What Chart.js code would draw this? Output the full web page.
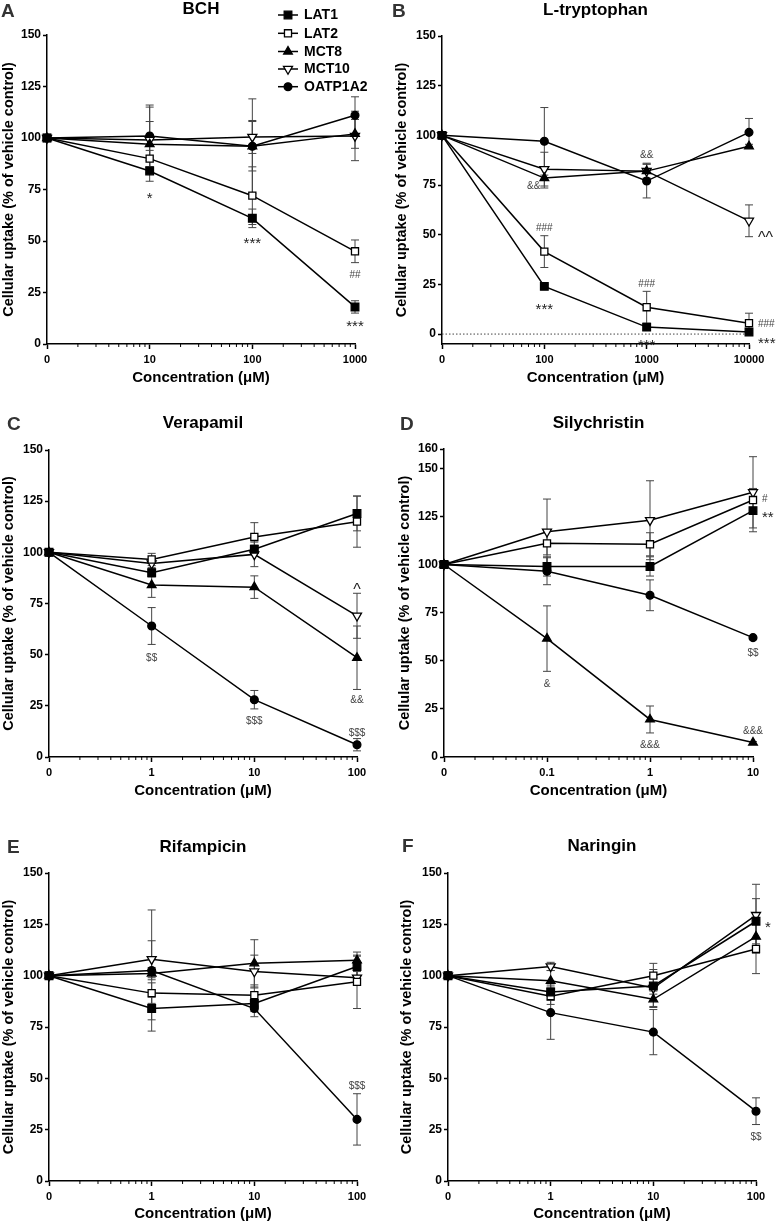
<!DOCTYPE html>
<html>
<head>
<meta charset="utf-8">
<script src="https://cdn.jsdelivr.net/npm/chart.js@4/dist/chart.umd.min.js"></script>
<style>
body { margin: 0; background: #fff; width: 777px; height: 1223px; position: relative; overflow: hidden; }
canvas { position: absolute; }
</style>
</head>
<body>
<canvas id="pA" width="390" height="395" style="left:0;top:0"></canvas>
<canvas id="pB" width="387" height="395" style="left:390px;top:0"></canvas>
<canvas id="pC" width="390" height="410" style="left:0;top:400px"></canvas>
<canvas id="pD" width="387" height="410" style="left:390px;top:400px"></canvas>
<canvas id="pE" width="390" height="413" style="left:0;top:810px"></canvas>
<canvas id="pF" width="387" height="413" style="left:390px;top:810px"></canvas>
<script>
const transporters = ['LAT1', 'LAT2', 'MCT8', 'MCT10', 'OATP1A2']
const yTicks = [0, 25, 50, 75, 100, 125, 150]
const yTicksD = [0, 25, 50, 75, 100, 125, 150, 160]

// A - BCH
const bchDoses = ['0', '10', '100', '1000']
const bchMeans = [
    [100, 84, 61, 18],
    [100, 90, 72, 45],
    [100, 97, 96, 102],
    [100, 99, 100.5, 101],
    [100, 101, 96, 111]
]
const bchErrs = [
    [0, 5, 4.5, 3],
    [0, 4, 14, 5.5],
    [0, 11, 12, 7],
    [0, 16, 8, 12],
    [0, 15, 23, 9]
]
const bchMarks = [[1, 72.5, '*'], [2, 51, '***'], [3, 34, '##'], [3, 10.5, '***']]

// B - L-tryptophan
const trpDoses = ['0', '100', '1000', '10000']
const trpMeans = [
    [100, 24, 3.5, 1],
    [100, 41.5, 13.5, 5.5],
    [100, 78.5, 82, 94.5],
    [100, 83, 82, 57],
    [100, 97, 77, 101.5]
]
const trpErrs = [
    [0, 1, 1.5, 0.5],
    [0, 8, 8, 5],
    [0, 5, 4, 1],
    [0, 8.5, 3.5, 8],
    [0, 17, 8.5, 7]
]
const trpMarks = [
    [1, 75, '&&', 'l'], [2, 90.5, '&&'], [1, 53.5, '###'], [1, 14.5, '***'],
    [2, 25.5, '###'], [2, -3.5, '***'], [3, 50, '^^', 'r'], [3, 5.5, '###', 'r'], [3, -2.5, '***', 'r']
]

// C - Verapamil
const verDoses = ['0', '1', '10', '100']
const verMeans = [
    [100, 90, 101.5, 119],
    [100, 96.5, 107.5, 115],
    [100, 84, 83, 48.5],
    [100, 94.5, 99, 69],
    [100, 64, 28, 6]
]
const verErrs = [
    [0, 2, 2, 8.5],
    [0, 3, 7, 12.5],
    [0, 6, 5.5, 15.5],
    [0, 2, 6, 11],
    [0, 9, 4.5, 3]
]
const verMarks = [[1, 48.5, '$$'], [2, 18, '$$$'], [3, 83, '^'], [3, 28, '&&'], [3, 12, '$$$']]

// D - Silychristin
const silDoses = ['0', '0.1', '1', '10']
const silMeans = [
    [100, 99, 99, 128],
    [100, 111, 110.5, 133.5],
    [100, 61.5, 19.5, 7.5],
    [100, 117, 123, 137.5],
    [100, 96.5, 84, 62]
]
const silErrs = [
    [0, 5, 5, 11],
    [0, 6, 6, 6],
    [0, 17, 7, 0.5],
    [0, 17, 20.5, 18.5],
    [0, 7, 8, 0.5]
]
const silMarks = [[1, 38, '&'], [2, 6.5, '&&&'], [3, 14, '&&&'], [3, 54.5, '$$'], [3, 134.5, '#', 'r'], [3, 126.5, '**', 'r']]

// E - Rifampicin
const rifDoses = ['0', '1', '10', '100']
const rifMeans = [
    [100, 84, 86.5, 104.5],
    [100, 91.5, 90.5, 97],
    [100, 101, 106, 107.5],
    [100, 108, 102, 99],
    [100, 102.5, 84, 30]
]
const rifErrs = [
    [0, 5.5, 4, 5],
    [0, 5, 5, 13],
    [0, 3, 11.5, 4],
    [0, 9, 8, 3],
    [0, 29.5, 4, 12.5]
]
const rifMarks = [[3, 46.5, '$$$']]

// F - Naringin
const narDoses = ['0', '1', '10', '100']
const narMeans = [
    [100, 92, 95, 126.5],
    [100, 90, 100, 113],
    [100, 97.5, 88.5, 119],
    [100, 104.5, 94, 129.5],
    [100, 82, 72.5, 34]
]
const narErrs = [
    [0, 4, 4, 11],
    [0, 4, 6, 12],
    [0, 5, 4, 8],
    [0, 2, 9, 15],
    [0, 13, 11, 6.5]
]
const narMarks = [[3, 125.5, '*', 'r'], [3, 21.5, '$$']]

const FONT = '"Liberation Sans", Arial, sans-serif'
Chart.defaults.font.family = FONT
Chart.defaults.color = '#000'
Chart.defaults.animation = false

const markers = [
    { pointStyle: 'rect', radius: 5.4, fill: '#000', rotation: 0 },
    { pointStyle: 'rect', radius: 5, fill: '#fff', rotation: 0 },
    { pointStyle: 'triangle', radius: 5, fill: '#000', rotation: 0 },
    { pointStyle: 'triangle', radius: 5.2, fill: '#fff', rotation: 180 },
    { pointStyle: 'circle', radius: 3.9, fill: '#000', rotation: 0 }
]
const legendRows = [15, 33.3, 51.5, 69, 86.7]

function makeDecor(p) {
    return {
        id: 'decor',
        beforeDatasetsDraw(chart) {
            const ctx = chart.ctx
            const xs = chart.scales.x
            const ys = chart.scales.y
            const area = chart.chartArea
            ctx.save()
            if (p.zeroLine) {
                const y0 = ys.getPixelForValue(0)
                ctx.strokeStyle = '#444'
                ctx.lineWidth = 1
                ctx.setLineDash([1.5, 2])
                ctx.beginPath()
                ctx.moveTo(area.left, y0)
                ctx.lineTo(area.right + 4, y0)
                ctx.stroke()
                ctx.setLineDash([])
            }
            // error bars
            ctx.strokeStyle = '#444'
            ctx.lineWidth = 1
            chart.data.datasets.forEach((ds, di) => {
                const meta = chart.getDatasetMeta(di)
                ds.errors.forEach((e, i) => {
                    if (!e) return
                    const px = meta.data[i].x
                    const top = ys.getPixelForValue(ds.data[i] + e)
                    const bot = ys.getPixelForValue(ds.data[i] - e)
                    ctx.beginPath()
                    ctx.moveTo(px, top); ctx.lineTo(px, bot)
                    ctx.moveTo(px - 4, top); ctx.lineTo(px + 4, top)
                    ctx.moveTo(px - 4, bot); ctx.lineTo(px + 4, bot)
                    ctx.stroke()
                })
            })
            ctx.restore()
        },
        afterDraw(chart) {
            const ctx = chart.ctx
            const xs = chart.scales.x
            const ys = chart.scales.y
            const area = chart.chartArea
            ctx.save()

            // log minor ticks
            ctx.strokeStyle = '#000'
            ctx.lineWidth = 1
            for (let i = 0; i < p.doses.length - 1; i++) {
                for (let k = 2; k <= 9; k++) {
                    const px = xs.getPixelForValue(i + Math.log10(k))
                    ctx.beginPath()
                    ctx.moveTo(px, area.bottom)
                    ctx.lineTo(px, area.bottom + 3)
                    ctx.stroke()
                }
            }

            // title and panel letter
            ctx.fillStyle = '#000'
            ctx.font = 'bold 17px ' + FONT
            ctx.textAlign = 'center'
            ctx.textBaseline = 'middle'
            ctx.fillText(p.title, (area.left + area.right) / 2, p.titleY)
            ctx.fillStyle = '#333'
            ctx.font = 'bold 19px ' + FONT
            ctx.textAlign = 'left'
            ctx.fillText(p.letter, p.letterX, p.letterY)

            // significance marks
            p.marks.forEach(([xi, v, txt, side]) => {
                const big = txt[0] === '*' || txt[0] === '^'
                const size = txt[0] === '*' ? 15 : txt[0] === '^' ? 16 : 10
                const lift = txt[0] === '*' ? 0.58 : txt[0] === '^' ? 0.52 : 0.36
                let px = xs.getPixelForValue(xi)
                ctx.textAlign = 'center'
                if (side === 'r') { px += 9; ctx.textAlign = 'left' }
                if (side === 'l') { px -= 4; ctx.textAlign = 'right' }
                ctx.fillStyle = big ? '#222' : '#444'
                ctx.font = size + 'px ' + FONT
                ctx.textBaseline = 'alphabetic'
                ctx.fillText(txt, px, ys.getPixelForValue(v) + lift * size)
            })

            // legend
            if (p.legend) {
                transporters.forEach((name, i) => {
                    const y = legendRows[i]
                    ctx.strokeStyle = '#000'
                    ctx.lineWidth = 1.5
                    ctx.beginPath()
                    ctx.moveTo(278, y); ctx.lineTo(298, y)
                    ctx.stroke()
                    ctx.fillStyle = markers[i].fill
                    ctx.lineWidth = 1.3
                    Chart.helpers.drawPoint(ctx, {
                        pointStyle: markers[i].pointStyle,
                        rotation: markers[i].rotation,
                        radius: markers[i].radius,
                        borderWidth: 1.3
                    }, 288, y)
                    ctx.fillStyle = '#000'
                    ctx.font = 'bold 14px ' + FONT
                    ctx.textAlign = 'left'
                    ctx.textBaseline = 'middle'
                    ctx.fillText(name, 304, y + 0.5)
                })
            }
            ctx.restore()
        }
    }
}

function makePanel(p) {
    const canvas = document.getElementById(p.id)
    const a = p.area
    return new Chart(canvas, {
        type: 'line',
        data: {
            labels: p.doses,
            datasets: p.means.map((m, i) => ({
                label: transporters[i],
                data: m,
                errors: p.errs[i],
                borderColor: '#000',
                borderWidth: 1.5,
                pointStyle: markers[i].pointStyle,
                pointRadius: markers[i].radius,
                pointRotation: markers[i].rotation,
                pointBackgroundColor: markers[i].fill,
                pointBorderColor: '#000',
                pointBorderWidth: 1.3,
                tension: 0,
                fill: false,
                clip: false
            }))
        },
        options: {
            responsive: false,
            animation: false,
            layout: {
                padding: { left: 0, top: a.t, right: canvas.width - a.r, bottom: canvas.height - a.b - p.xAxisH }
            },
            plugins: { legend: { display: false }, tooltip: { enabled: false } },
            scales: {
                x: {
                    type: 'category',
                    offset: false,
                    afterFit: s => { s.height = p.xAxisH },
                    grid: { display: true, drawOnChartArea: false, drawTicks: true, tickLength: 5, tickWidth: 1.5, tickColor: '#000', offset: false },
                    border: { display: true, color: '#000', width: 1.5 },
                    ticks: { font: { size: 11, weight: 'bold' }, color: '#000', padding: 4, maxRotation: 0, autoSkip: false },
                    title: { display: true, text: 'Concentration (μM)', font: { size: 15, weight: 'bold' }, color: '#000', padding: { top: 0, bottom: 0 } }
                },
                y: {
                    type: 'linear',
                    min: p.yMin,
                    max: p.yMax,
                    afterFit: s => { s.width = a.l },
                    afterBuildTicks: s => { s.ticks = p.yTicks.map(v => ({ value: v })) },
                    grid: { display: true, drawOnChartArea: false, drawTicks: true, tickLength: 4, tickWidth: 1.5, tickColor: '#000' },
                    border: { display: true, color: '#000', width: 1.5 },
                    ticks: { font: { size: 12, weight: 'bold' }, color: '#000', padding: 2 },
                    title: { display: true, text: 'Cellular uptake (% of vehicle control)', font: { size: 14.5, weight: 'bold' }, color: '#000', padding: { top: p.yTitlePad, bottom: 0 } }
                }
            }
        },
        plugins: [makeDecor(p)]
    })
}

makePanel({ id: 'pA', title: 'BCH', letter: 'A', doses: bchDoses, means: bchMeans, errs: bchErrs, marks: bchMarks,
    yTicks: yTicks, yMin: 0, yMax: 150, area: { l: 47, t: 35, r: 355, b: 344 }, xAxisH: 43, yTitlePad: 0,
    titleY: 9, letterX: 1, letterY: 12, legend: true })
makePanel({ id: 'pB', title: 'L-tryptophan', letter: 'B', doses: trpDoses, means: trpMeans, errs: trpErrs, marks: trpMarks,
    yTicks: yTicks, yMin: -5, yMax: 150, area: { l: 52, t: 36, r: 359, b: 344 }, xAxisH: 43, yTitlePad: 3,
    titleY: 10, letterX: 2, letterY: 12, zeroLine: true })
makePanel({ id: 'pC', title: 'Verapamil', letter: 'C', doses: verDoses, means: verMeans, errs: verErrs, marks: verMarks,
    yTicks: yTicks, yMin: 0, yMax: 150, area: { l: 49, t: 50, r: 357, b: 357 }, xAxisH: 43, yTitlePad: 0,
    titleY: 23, letterX: 7, letterY: 25 })
makePanel({ id: 'pD', title: 'Silychristin', letter: 'D', doses: silDoses, means: silMeans, errs: silErrs, marks: silMarks,
    yTicks: yTicksD, yMin: 0, yMax: 160, area: { l: 54, t: 49, r: 363, b: 357 }, xAxisH: 43, yTitlePad: 6.5,
    titleY: 23, letterX: 10, letterY: 25 })
makePanel({ id: 'pE', title: 'Rifampicin', letter: 'E', doses: rifDoses, means: rifMeans, errs: rifErrs, marks: rifMarks,
    yTicks: yTicks, yMin: 0, yMax: 150, area: { l: 49, t: 63, r: 357, b: 371 }, xAxisH: 42, yTitlePad: 0,
    titleY: 37, letterX: 7, letterY: 38 })
makePanel({ id: 'pF', title: 'Naringin', letter: 'F', doses: narDoses, means: narMeans, errs: narErrs, marks: narMarks,
    yTicks: yTicks, yMin: 0, yMax: 150, area: { l: 58, t: 63, r: 366, b: 371 }, xAxisH: 42, yTitlePad: 8,
    titleY: 36, letterX: 12, letterY: 37 })
</script>
</body>
</html>
